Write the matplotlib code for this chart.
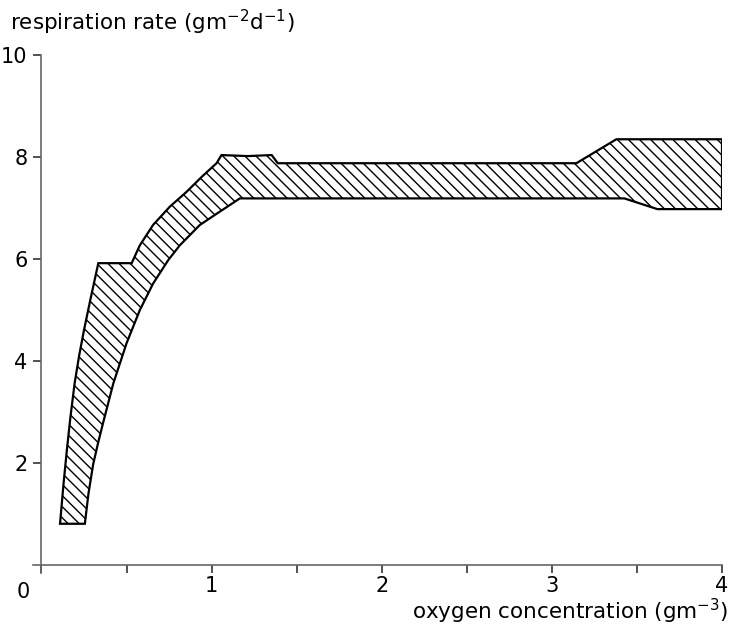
import matplotlib.pyplot as plt

plt.rcParams['font.family'] = ['DejaVu Sans']
plt.rcParams['mathtext.default'] = 'regular'
plt.rcParams['hatch.linewidth'] = 1.0

# upper edge of the band (oxygen conc., respiration rate)
upper_x = [0.109, 0.130, 0.149, 0.170, 0.195, 0.222, 0.250, 0.287, 0.334, 0.520,
           0.530, 0.578, 0.656, 0.755, 0.853, 0.941, 1.029, 1.058, 1.212, 1.353,
           1.389, 3.144, 3.379, 4.0]
upper_y = [0.81, 1.61, 2.25, 2.90, 3.57, 4.12, 4.61, 5.20, 5.92, 5.92,
           5.92, 6.27, 6.67, 7.03, 7.32, 7.61, 7.88, 8.04, 8.02, 8.04,
           7.88, 7.88, 8.35, 8.35]

# lower edge of the band
lower_x = [0.255, 0.276, 0.304, 0.333, 0.363, 0.422, 0.500, 0.578, 0.656, 0.745,
           0.813, 0.931, 1.048, 1.166, 3.426, 3.620, 4.0]
lower_y = [0.81, 1.40, 1.98, 2.40, 2.80, 3.56, 4.35, 5.00, 5.52, 5.98,
           6.27, 6.67, 6.93, 7.19, 7.19, 6.98, 6.98]

x_ticks = [0, 0.5, 1, 1.5, 2, 2.5, 3, 3.5, 4]
x_labels = ['', '', '1', '', '2', '', '3', '', '4']
y_ticks = [2, 4, 6, 8, 10]

fig = plt.figure(figsize=(7.33, 6.32), dpi=100)
ax = fig.add_axes([0.045, 0.0938, 0.94, 0.819])

poly_x = upper_x + lower_x[::-1]
poly_y = upper_y + lower_y[::-1]
ax.fill(poly_x, poly_y, facecolor='white', edgecolor='black', hatch='\\\\\\',
        linewidth=1.6, joinstyle='miter')

ax.set_xlim(-0.05, 4.0)
ax.set_ylim(-0.15, 10.0)
for s in ['top', 'right']:
    ax.spines[s].set_visible(False)
ax.spines['left'].set_position(('data', 0))
ax.spines['bottom'].set_position(('data', 0))
for s in ['left', 'bottom']:
    ax.spines[s].set_color('0.4')
    ax.spines[s].set_linewidth(1.2)

ax.set_xticks(x_ticks)
ax.set_xticklabels(x_labels)
ax.set_yticks(y_ticks)
ax.set_yticklabels([str(v) for v in y_ticks])
ax.tick_params(axis='both', direction='out', length=6, width=1.2, color='0.2',
               labelsize=15)
ax.tick_params(axis='x', pad=2)
ax.tick_params(axis='y', pad=4)
ax.text(-0.11, -0.33, '0', fontsize=15, ha='center', va='top')

fig.text(0.0136, 1 - 30 / 632, 'respiration rate (gm$^{-2}$d$^{-1}$)',
         fontsize=15.5, ha='left', va='baseline')
fig.text(0.993, 0.021, 'oxygen concentration (gm$^{-3}$)',
         fontsize=15.5, ha='right', va='baseline')

fig.savefig('out.png', dpi=100)
